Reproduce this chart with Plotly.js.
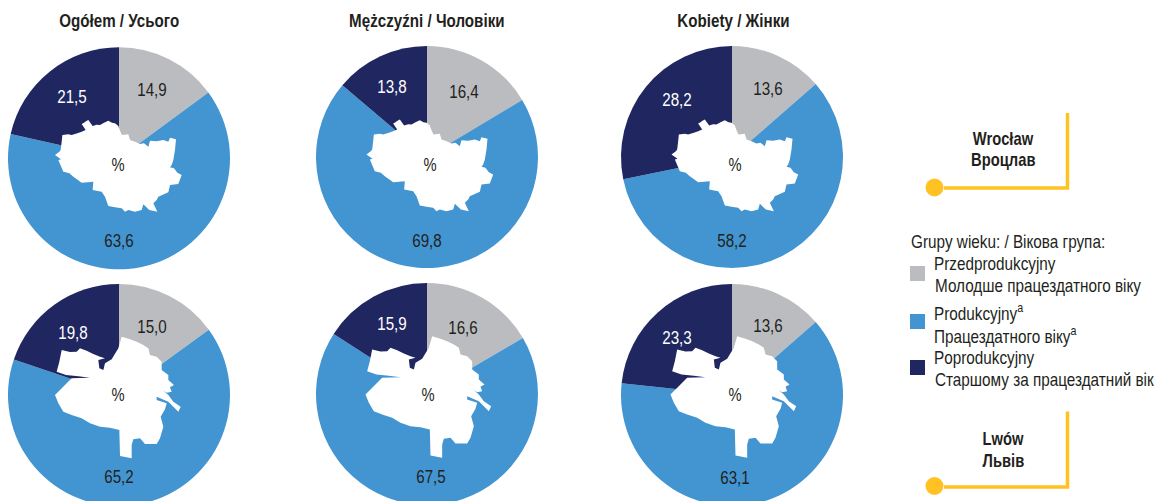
<!DOCTYPE html>
<html><head><meta charset="utf-8">
<script src="https://cdn.plot.ly/plotly-3.0.1.min.js"></script>
<style>html,body{margin:0;padding:0;background:#fff;overflow:hidden;width:1154px;height:501px}#c{width:1154px;height:520px}</style>
</head><body><div id="c"></div>
<script>
const categories = ['Przedprodukcyjny','Produkcyjny','Poprodukcyjny'];
const colors = ['#BBBCBF','#4295D1','#1F2660'];
const titles = ['Ogółem / Усього','Mężczyźni / Чоловіки','Kobiety / Жінки'];
const wroclawTotal = [14.9,63.6,21.5];
const wroclawMen   = [16.4,69.8,13.8];
const wroclawWomen = [13.6,58.2,28.2];
const lwowTotal = [15.0,65.2,19.8];
const lwowMen   = [16.6,67.5,15.9];
const lwowWomen = [13.6,63.1,23.3];
const legendTitle = 'Grupy wieku: / Вікова група:';
const legendPl = ['Przedprodukcyjny','Produkcyjny<sup>a</sup>','Poprodukcyjny'];
const legendUa = ['Молодше працездатного віку','Працездатного віку<sup>a</sup>','Старшому за працездатний вік'];
const cityPl = ['Wrocław','Lwów'];
const cityUa = ['Вроцлав','Львів'];

const W=1154,H=520,R=111;
const FONT='"Liberation Sans",Arial,sans-serif';
const px=x=>x/W, py=y=>1-y/H;
const panels=[
 {v:wroclawTotal,cx:119,cy:158.3,lab:[[152,89],[119,240],[72,96]],pct:[118,165],city:0,dx:0,dy:0},
 {v:wroclawMen,cx:427,cy:157,lab:[[464,91],[427,240],[392,87]],pct:[430,165],city:0,dx:311.5,dy:-0.5},
 {v:wroclawWomen,cx:732,cy:157,lab:[[768,88],[732,240],[677,100]],pct:[735,165],city:0,dx:616.5,dy:-0.5},
 {v:lwowTotal,cx:119,cy:395,lab:[[152,326],[119,476],[73,332]],pct:[118,395],city:1,dx:0,dy:0},
 {v:lwowMen,cx:427,cy:394,lab:[[463,327],[431,476],[392,323]],pct:[428,395],city:1,dx:310.5,dy:-0.5},
 {v:lwowWomen,cx:732,cy:395,lab:[[768,325],[735,477],[677,337]],pct:[735,395],city:1,dx:615.5,dy:-0.5}
];
// city silhouettes (decorative outlines, in crop pixels)
const wroOutline=[[245,372],[252,368],[258,364],[265,360],[272,370],[278,378],[290,374],[300,375],[312,368],[325,362],[336,368],[345,370],[355,378],[360,392],[366,405],[385,403],[390,420],[405,425],[420,432],[432,430],[445,440],[450,422],[470,424],[490,420],[505,425],[510,413],[528,418],[525,450],[520,480],[515,495],[510,502],[522,505],[532,518],[545,525],[535,552],[510,555],[505,577],[475,590],[470,600],[460,610],[472,635],[448,630],[430,613],[425,630],[405,635],[385,630],[375,635],[365,625],[345,622],[325,618],[315,590],[305,575],[278,570],[280,545],[245,548],[220,530],[208,520],[190,515],[175,480],[183,478],[165,465],[178,455],[182,450],[185,425],[187,405],[205,403],[215,405],[232,400],[245,395],[257,390]];
const lwoOutline=[[35,60],[60,66],[80,65],[90,55],[110,62],[130,72],[150,80],[165,85],[145,90],[148,115],[160,120],[165,100],[185,88],[205,55],[215,20],[240,28],[260,35],[280,45],[295,55],[300,75],[320,80],[335,95],[335,120],[355,135],[355,150],[372,165],[360,172],[365,185],[350,188],[340,182],[355,195],[370,215],[392,230],[385,245],[370,230],[355,215],[320,200],[320,210],[350,220],[345,238],[332,260],[340,290],[330,325],[320,342],[285,342],[270,325],[250,328],[245,345],[245,385],[210,378],[208,300],[180,293],[150,290],[120,280],[95,265],[65,255],[40,245],[25,220],[15,195],[30,180],[65,145],[90,144],[120,143],[85,139],[48,135],[20,125],[28,95]];
const cityPath=(i,dx,dy)=>{
  const o=i===0?wroOutline:lwoOutline;
  const m=i===0?(p=>[p[0]/3+dx,p[1]/3+dy]):(p=>[50+p[0]/3+dx,330+p[1]/3+dy]);
  return 'M'+o.map(p=>{const q=m(p);return px(q[0]).toFixed(5)+','+py(q[1]).toFixed(5);}).join('L')+'Z';
};
const fmt=v=>v.toFixed(1).replace('.',',');
const traces=panels.map(p=>({
  type:'pie',values:p.v,labels:categories,sort:false,direction:'clockwise',rotation:0,
  textinfo:'none',hoverinfo:'label+value',
  marker:{colors:colors,line:{width:0}},
  domain:{x:[px(p.cx-R),px(p.cx+R)],y:[py(p.cy+R),py(p.cy-R)]}
}));
const ann=[],shapes=[];
const T=(x,y,text,size,color,bold,anchor)=>ann.push({xref:'paper',yref:'paper',x:px(x),y:py(y),text:bold?'<b>'+text+'</b>':text,showarrow:false,xanchor:anchor||'center',yanchor:'middle',align:anchor||'center',borderpad:0,font:{family:FONT,size:size,color:color}});
const Tt='#231F20';
panels.forEach(p=>{
  shapes.push({type:'path',layer:'above',xref:'paper',yref:'paper',path:cityPath(p.city,p.dx,p.dy),fillcolor:'#fff',line:{width:0}});
  p.v.forEach((v,i)=>T(p.lab[i][0],p.lab[i][1],fmt(v),18.5,i===2?'#fff':Tt,false));
  T(p.pct[0],p.pct[1],'%',18,Tt,false);
});
[119,427,733].forEach((x,i)=>T(x,21,titles[i],18.5,Tt,true));
T(909.5,241.5,legendTitle,18,Tt,false,'left');
[[264,286,273.5],[312,335,321.5],[358,380,367.5]].forEach((r,i)=>{
  T(933.5,r[0],legendPl[i],18,Tt,false,'left');
  T(933.5,r[1],legendUa[i],18,Tt,false,'left');
  shapes.push({type:'rect',xref:'paper',yref:'paper',x0:px(910),x1:px(925),y0:py(r[2]-7.5),y1:py(r[2]+7.5),fillcolor:colors[i],line:{width:0}});
});
const Y='#FFC222';
[[113,188,187.5,139,160],[411.5,487,486,439,461]].forEach((r,i)=>{
  shapes.push({type:'path',xref:'paper',yref:'paper',path:`M${px(1067.5)},${py(r[0])}L${px(1067.5)},${py(r[1])}L${px(944)},${py(r[1])}`,line:{color:Y,width:3.5},fillcolor:'rgba(0,0,0,0)'});
  shapes.push({type:'circle',xref:'paper',yref:'paper',x0:px(925.5),x1:px(943.5),y0:py(r[2]-9),y1:py(r[2]+9),fillcolor:Y,line:{width:0}});
  T(1003,r[3],cityPl[i],18,Tt,true);
  T(1003,r[4],cityUa[i],18,Tt,true);
});
Plotly.newPlot('c',traces,{width:W,height:H,margin:{l:0,r:0,t:0,b:0},paper_bgcolor:'#fff',showlegend:false,font:{family:FONT},shapes:shapes,annotations:ann},{displayModeBar:false,staticPlot:true}).then(gd=>{
  // the reference uses a condensed face: narrow each annotation about its anchor
  gd.querySelectorAll('.annotation').forEach(g=>{
    const a=ann[+g.getAttribute('data-index')], t=g.querySelector('text.annotation-text');
    if(!a||!t) return;
    const left=a.xanchor==='left', s=left?0.85:0.82;
    const b=t.getBBox(), p=left?b.x:b.x+b.width/2;
    const old=t.getAttribute('transform')||'';
    t.setAttribute('transform',`${old} translate(${p},0) scale(${s},1) translate(${-p},0)`);
  });
});
</script></body></html>
